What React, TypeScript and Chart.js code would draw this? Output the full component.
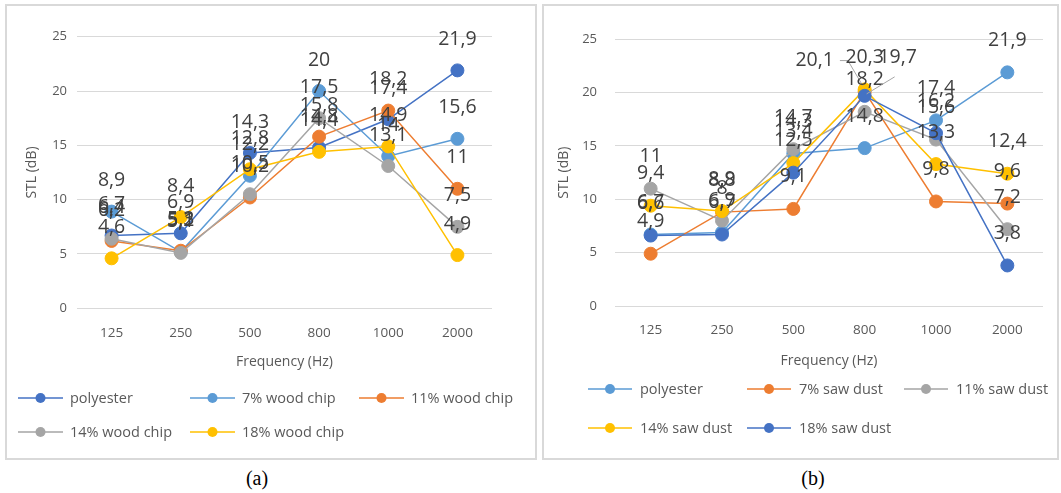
import React, { useEffect, useRef } from "react";
import { Chart, registerables } from "chart.js";

Chart.register(...registerables);

// ---------- data ----------
const frequencies = ["125", "250", "500", "800", "1000", "2000"];
const yTickValues = [0, 5, 10, 15, 20, 25];

const woodLabels = ["polyester", "7% wood chip", "11% wood chip", "14% wood chip", "18% wood chip"];
const woodPolyester = [6.7, 6.9, 14.3, 14.8, 17.4, 21.9];
const wood7 = [8.9, 5.2, 12.2, 20, 14, 15.6];
const wood11 = [6.2, 5.3, 10.2, 15.8, 18.2, 11];
const wood14 = [6.4, 5.1, 10.5, 17.5, 13.1, 7.5];
const wood18 = [4.6, 8.4, 12.8, 14.4, 14.9, 4.9];
const woodColors = ["#4472C4", "#5B9BD5", "#ED7D31", "#A5A5A5", "#FFC000"];

const sawLabels = ["polyester", "7% saw dust", "11% saw dust", "14% saw dust", "18% saw dust"];
const sawPolyester = [6.7, 6.9, 14.3, 14.8, 17.4, 21.9];
const saw7 = [4.9, 8.8, 9.1, 20.1, 9.8, 9.6];
const saw11 = [11, 8, 14.7, 18.2, 15.6, 7.2];
const saw14 = [9.4, 8.9, 13.4, 20.3, 13.3, 12.4];
const saw18 = [6.6, 6.7, 12.5, 19.7, 16.2, 3.8];
const sawColors = ["#5B9BD5", "#ED7D31", "#A5A5A5", "#FFC000", "#4472C4"];

const xTitle = "Frequency (Hz)";
const yTitle = "STL (dB)";

// ---------- layout ----------
type Override = { ds: number; idx: number; dx: number; dy: number; leader: "right" | "below" };
type PanelCfg = {
  box: { left: number; top: number; width: number; height: number };
  area: { left: number; right: number; top: number; bottom: number };
  xAxisHeight: number;
  xTickPad: number;
  yTickPad: number;
  xTitlePad: number;
  yTitlePad: number;
  legendCols: number[];
  legendRows: number[];
  legendLine: number;
  legendGap: number;
  labelOffset: number;
  overrides: Override[];
  caption: string;
  captionX: number;
};

const panelA: PanelCfg = {
  box: { left: 5, top: 4, width: 532, height: 456 },
  area: { left: 77, right: 492, top: 36.7, bottom: 308.3 },
  xAxisHeight: 70,
  xTickPad: 17,
  yTickPad: 10,
  xTitlePad: 7.5,
  yTitlePad: 17,
  legendCols: [18, 190, 359],
  legendRows: [398, 432],
  legendLine: 45,
  legendGap: 7,
  labelOffset: 31,
  overrides: [],
  caption: "(a)",
  captionX: 257,
};

const panelB: PanelCfg = {
  box: { left: 542, top: 4, width: 517, height: 456 },
  area: { left: 615, right: 1043, top: 39.3, bottom: 306 },
  xAxisHeight: 70,
  xTickPad: 16,
  yTickPad: 18,
  xTitlePad: 6.2,
  yTitlePad: 12,
  legendCols: [588, 747, 904],
  legendRows: [389, 428],
  legendLine: 44,
  legendGap: 8,
  labelOffset: 32,
  overrides: [
    { ds: 1, idx: 3, dx: -50, dy: 1, leader: "right" },
    { ds: 4, idx: 3, dx: 33, dy: -6, leader: "below" },
  ],
  caption: "(b)",
  captionX: 813,
};

const FONT = "'Open Sans', 'DejaVu Sans', sans-serif";
const AXIS_COLOR = "#595959";
const LABEL_COLOR = "#404040";

function Panel({ cfg, labels, series, colors }: { cfg: PanelCfg; labels: string[]; series: number[][]; colors: string[] }) {
  const ref = useRef<HTMLCanvasElement>(null);
  const cx = cfg.box.left + 2;
  const cy = cfg.box.top + 2;
  const cw = cfg.box.width - 4;
  const ch = cfg.box.height - 4;

  useEffect(() => {
    const canvas = ref.current!;
    const yW = cfg.area.left - cx;
    const padRight = cx + cw - cfg.area.right;
    const padTop = cfg.area.top - cy;
    const padBottom = cy + ch - cfg.area.bottom - cfg.xAxisHeight;

    const dataLabelPlugin = {
      id: "dataLabelsInline",
      afterDatasetsDraw(chart: any) {
        const ctx = chart.ctx as CanvasRenderingContext2D;
        ctx.save();
        ctx.font = `19.5px ${FONT}`;
        ctx.fillStyle = LABEL_COLOR;
        ctx.textAlign = "center";
        ctx.textBaseline = "middle";
        chart.data.datasets.forEach((ds: any, di: number) => {
          const meta = chart.getDatasetMeta(di);
          meta.data.forEach((pt: any, i: number) => {
            const v = ds.data[i];
            const text = String(v).replace(".", ",");
            let x = pt.x;
            let y = pt.y - cfg.labelOffset;
            const ov = cfg.overrides.find((o) => o.ds === di && o.idx === i);
            if (ov) {
              x += ov.dx;
              y += ov.dy;
              const w = ctx.measureText(text).width;
              ctx.save();
              ctx.strokeStyle = "#A6A6A6";
              ctx.lineWidth = 1;
              ctx.beginPath();
              if (ov.leader === "right") {
                ctx.moveTo(x + w / 2 + 6, y);
                ctx.lineTo(x + w / 2 + 14, y);
                ctx.lineTo(pt.x - 2, pt.y - 6);
              } else {
                ctx.moveTo(x - 3, y + 19);
                ctx.lineTo(pt.x + 2, pt.y - 2);
              }
              ctx.stroke();
              ctx.restore();
            }
            ctx.fillText(text, x, y);
          });
        });
        ctx.restore();
      },
    };

    const legendPlugin = {
      id: "gridLegendInline",
      afterDraw(chart: any) {
        const ctx = chart.ctx as CanvasRenderingContext2D;
        ctx.save();
        chart.data.datasets.forEach((ds: any, i: number) => {
          const col = i % 3;
          const row = Math.floor(i / 3);
          const x = cfg.legendCols[col] - cx;
          const y = cfg.legendRows[row] - cy;
          ctx.strokeStyle = ds.borderColor;
          ctx.lineWidth = 1.5;
          ctx.beginPath();
          ctx.moveTo(x, y);
          ctx.lineTo(x + cfg.legendLine, y);
          ctx.stroke();
          ctx.fillStyle = ds.borderColor;
          ctx.beginPath();
          ctx.arc(x + cfg.legendLine / 2, y, 5, 0, Math.PI * 2);
          ctx.fill();
          ctx.fillStyle = AXIS_COLOR;
          ctx.font = `14.5px ${FONT}`;
          ctx.textAlign = "left";
          ctx.textBaseline = "middle";
          ctx.fillText(ds.label, x + cfg.legendLine + cfg.legendGap, y + 1);
        });
        ctx.restore();
      },
    };

    const n = series.length;
    const chart = new Chart(canvas, {
      type: "line",
      data: {
        labels: frequencies,
        datasets: series.map((d, i) => ({
          label: labels[i],
          data: d,
          borderColor: colors[i],
          backgroundColor: colors[i],
          pointBackgroundColor: colors[i],
          pointBorderColor: colors[i],
          pointRadius: 6.5,
          pointBorderWidth: 1,
          borderWidth: 1.5,
          tension: 0,
          fill: false,
          clip: false,
          order: n - i,
        })),
      },
      options: {
        responsive: false,
        animation: false,
        devicePixelRatio: 1,
        layout: { padding: { left: 0, right: padRight, top: padTop, bottom: padBottom } },
        plugins: {
          legend: { display: false },
          tooltip: { enabled: false },
          title: { display: false },
        },
        scales: {
          x: {
            type: "category",
            offset: true,
            grid: { display: false, drawTicks: false },
            border: { display: false },
            ticks: {
              color: AXIS_COLOR,
              font: { family: FONT, size: 13.5 },
              padding: cfg.xTickPad,
              maxRotation: 0,
              autoSkip: false,
            },
            title: {
              display: true,
              text: xTitle,
              color: AXIS_COLOR,
              font: { family: FONT, size: 14 },
              padding: { top: 0, bottom: cfg.xTitlePad },
            },
            afterFit: (s: any) => {
              s.height = cfg.xAxisHeight;
            },
          },
          y: {
            min: 0,
            max: 25,
            afterBuildTicks: (s: any) => {
              s.ticks = yTickValues.map((v) => ({ value: v }));
            },
            ticks: {
              color: AXIS_COLOR,
              font: { family: FONT, size: 13 },
              padding: cfg.yTickPad,
            },
            grid: { color: "#D9D9D9", lineWidth: 1, drawTicks: false },
            border: { display: false },
            title: {
              display: true,
              text: yTitle,
              color: AXIS_COLOR,
              font: { family: FONT, size: 14 },
              padding: { top: cfg.yTitlePad, bottom: 0 },
            },
            afterFit: (s: any) => {
              s.width = yW;
            },
          },
        },
      } as any,
      plugins: [dataLabelPlugin, legendPlugin],
    });
    return () => chart.destroy();
  }, []);

  return (
    <>
      <div
        style={{
          position: "absolute",
          left: cfg.box.left,
          top: cfg.box.top,
          width: cfg.box.width,
          height: cfg.box.height,
          border: "2px solid #D9D9D9",
          boxSizing: "border-box",
          background: "#fff",
        }}
      />
      <canvas
        ref={ref}
        width={cw}
        height={ch}
        style={{ position: "absolute", left: cx, top: cy, width: cw, height: ch }}
      />
      <div
        style={{
          position: "absolute",
          left: cfg.captionX - 40,
          width: 80,
          top: 466,
          textAlign: "center",
          fontFamily: "'Liberation Serif', 'Times New Roman', serif",
          fontSize: 20,
          lineHeight: "24px",
          color: "#000",
        }}
      >
        {cfg.caption}
      </div>
    </>
  );
}

export default function App() {
  return (
    <div style={{ position: "absolute", left: 0, top: 0, width: 1061, height: 493, background: "#fff", overflow: "hidden" }}>
      <Panel cfg={panelA} labels={woodLabels} series={[woodPolyester, wood7, wood11, wood14, wood18]} colors={woodColors} />
      <Panel cfg={panelB} labels={sawLabels} series={[sawPolyester, saw7, saw11, saw14, saw18]} colors={sawColors} />
    </div>
  );
}
